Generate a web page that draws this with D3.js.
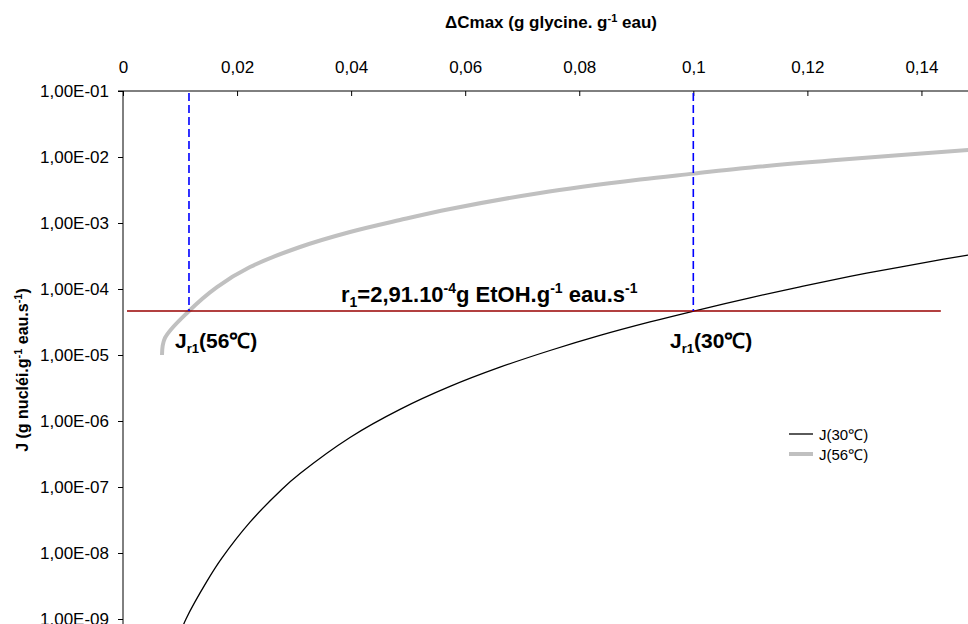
<!DOCTYPE html>
<html><head><meta charset="utf-8">
<script src="https://cdn.jsdelivr.net/npm/d3@7"></script>
<style>
body{margin:0;background:#fff;}
text{font-family:"Liberation Sans",Arial,sans-serif;}
</style></head>
<body><svg id="c" width="968" height="624"></svg>
<script>
const xTicks = [0,0.02,0.04,0.06,0.08,0.1,0.12,0.14];
const xTickLabels = ["0","0,02","0,04","0,06","0,08","0,1","0,12","0,14"];
const yTicks = [1e-1,1e-2,1e-3,1e-4,1e-5,1e-6,1e-7,1e-8,1e-9];
const yTickLabels = ["1,00E-01","1,00E-02","1,00E-03","1,00E-04","1,00E-05","1,00E-06","1,00E-07","1,00E-08","1,00E-09"];

// J(56°C)
const x56 = [0.00684,0.00736,0.01157,0.01648,0.02227,0.03104,0.03981,0.04857,0.05734,0.07312,0.09066,0.1001,0.1082,0.1245,0.1482,0.16];
const j56 = [1e-5,1.81e-5,4.64e-5,1.07e-4,2.15e-4,4.33e-4,7.31e-4,1.11e-3,1.63e-3,2.85e-3,4.55e-3,5.6e-3,6.7e-3,8.9e-3,1.28e-2,1.5e-2];
// J(30°C)
const x30 = [0.00964,0.01105,0.01473,0.01736,0.02227,0.02788,0.03104,0.0398,0.04857,0.05734,0.0661,0.07487,0.08364,0.09241,0.1001,0.10994,0.11871,0.12748,0.13624,0.14816,0.15991];
const j30 = [4.98e-10,1e-9,3.74e-9,8.41e-9,2.93e-8,9.27e-8,1.6e-7,5.63e-7,1.5e-6,3.34e-6,6.53e-6,1.17e-5,1.98e-5,3.17e-5,4.64e-5,7.36e-5,1.08e-4,1.55e-4,2.15e-4,3.27e-4,4.74e-4];

const r1 = 4.64e-5;
const r1Range = [0.0007,0.1434];
const jr1x = [0.01157,0.1];

const svg = d3.select("#c");
const x = d3.scaleLinear().domain([0,0.16]).range([123,1035.5]);
const y = d3.scaleLog().domain([1e-9,1e-1]).range([619,91]);

svg.append("defs").append("clipPath").attr("id","pa")
  .append("rect").attr("x",123).attr("y",91).attr("width",845).attr("height",533);

// axes
const gx = svg.append("g").attr("transform","translate(0,91)")
  .call(d3.axisTop(x).tickValues(xTicks).tickFormat((d,i)=>xTickLabels[i]).tickSizeInner(-5).tickSizeOuter(0).tickPadding(18));
gx.select(".domain").attr("d","M118,0H968").attr("stroke","#000");
gx.selectAll("text").attr("font-size",17).attr("fill","#000");

const gy = svg.append("g").attr("transform","translate(123,0)")
  .call(d3.axisLeft(y).tickValues(yTicks).tickFormat((d,i)=>yTickLabels[i]).tickSizeInner(5).tickSizeOuter(0).tickPadding(9));
gy.select(".domain").attr("d","M0,91V624").attr("stroke","#000");
gy.selectAll("text").attr("font-size",17).attr("fill","#000");

// titles
const tx = svg.append("text").attr("x",551).attr("y",28).attr("text-anchor","middle")
  .attr("font-size",17).attr("font-weight","bold");
tx.append("tspan").text("ΔCmax (g glycine. g");
tx.append("tspan").attr("dy",-6).attr("font-size",11).text("-1");
tx.append("tspan").attr("dy",6).text(" eau)");

const ty = svg.append("text").attr("transform","translate(28,370) rotate(-90)").attr("text-anchor","middle")
  .attr("font-size",16).attr("font-weight","bold");
ty.append("tspan").text("J (g nucléi.g");
ty.append("tspan").attr("dy",-6).attr("font-size",11).text("-1");
ty.append("tspan").attr("dy",6).text(" eau.s");
ty.append("tspan").attr("dy",-6).attr("font-size",11).text("-1");
ty.append("tspan").attr("dy",6).text(")");

const plot = svg.append("g").attr("clip-path","url(#pa)");
const line = d3.line().x(d=>x(d[0])).y(d=>y(d[1])).curve(d3.curveCatmullRom.alpha(0.5));

plot.append("path").datum(x56.map((v,i)=>[v,j56[i]])).attr("d",line)
  .attr("fill","none").attr("stroke","#c0c0c0").attr("stroke-width",4);
plot.append("path").datum(x30.map((v,i)=>[v,j30[i]])).attr("d",line)
  .attr("fill","none").attr("stroke","#000").attr("stroke-width",1.3);

// r1 line
svg.append("line").attr("x1",x(r1Range[0])).attr("x2",x(r1Range[1])).attr("y1",y(r1)).attr("y2",y(r1))
  .attr("stroke","#990000").attr("stroke-width",1.5);
// dashed verticals
jr1x.forEach(v=>{
  svg.append("line").attr("x1",x(v)).attr("x2",x(v)).attr("y1",y(1e-1)+2).attr("y2",y(r1))
    .attr("stroke","#0000ff").attr("stroke-width",1.6).attr("stroke-dasharray","8,4");
});

// annotations
const ta = svg.append("text").attr("x",341).attr("y",302).attr("font-size",22).attr("font-weight","bold");
ta.append("tspan").text("r");
ta.append("tspan").attr("dy",5).attr("font-size",14).text("1");
ta.append("tspan").attr("dy",-5).text("=2,91.10");
ta.append("tspan").attr("dy",-9).attr("font-size",14).text("-4");
ta.append("tspan").attr("dy",9).text("g EtOH.g");
ta.append("tspan").attr("dy",-9).attr("font-size",14).text("-1");
ta.append("tspan").attr("dy",9).text(" eau.s");
ta.append("tspan").attr("dy",-9).attr("font-size",14).text("-1");

function jlab(xp,lab){
  const t = svg.append("text").attr("x",xp).attr("y",348).attr("font-size",21).attr("font-weight","bold");
  t.append("tspan").text("J");
  t.append("tspan").attr("dy",5).attr("font-size",13).text("r1");
  t.append("tspan").attr("dy",-5).text(lab);
}
jlab(175,"(56℃)");
jlab(670,"(30℃)");

// legend
const leg = [{l:"J(30℃)",c:"#000",w:1.3},{l:"J(56℃)",c:"#c0c0c0",w:4}];
leg.forEach((d,i)=>{
  const yy = 434 + i*20;
  svg.append("line").attr("x1",789).attr("x2",813).attr("y1",yy).attr("y2",yy).attr("stroke",d.c).attr("stroke-width",d.w);
  svg.append("text").attr("x",819).attr("y",yy+5.5).attr("font-size",15).text(d.l);
});
</script></body></html>
